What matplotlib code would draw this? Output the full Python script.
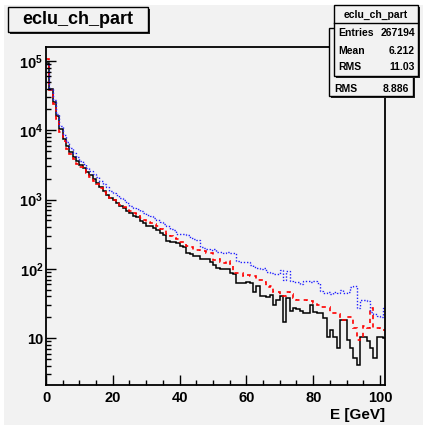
import numpy as np
import matplotlib
matplotlib.use("Agg")
import matplotlib.pyplot as plt
from matplotlib.patches import Rectangle

plt.rcParams['font.family'] = ['Liberation Sans', 'DejaVu Sans']
plt.rcParams['font.weight'] = 'bold'
plt.rcParams['mathtext.fontset'] = 'custom'
plt.rcParams['mathtext.rm'] = 'Liberation Sans:bold'
plt.rcParams['mathtext.it'] = 'Liberation Sans:bold'
plt.rcParams['mathtext.bf'] = 'Liberation Sans:bold'

# bin edges in GeV (1 GeV bins)
edges = np.arange(0, 103)

# black (main histogram)
black = [95000, 40000, 26000, 16000, 10500, 7600, 5900, 4900, 4150, 3550,
         3150, 2850, 2520, 2250, 1950, 1750, 1520, 1320, 1180, 1050,
         980, 890, 810, 760, 690, 640, 585, 560, 485, 460,
         415, 412, 390, 365, 330, 310, 250, 245, 242, 235,
         212, 205, 168, 165, 154, 152, 140, 138, 137, 125,
         112, 102, 101, 100, 98, 88, 84, 63, 63, 62,
         64, 63, 46, 56, 40, 40, 39, 42, 30, 35,
         40, 17, 38, 25, 27, 26, 25, 23, 23, 30,
         24, 23, 23, 19.5, 10.5, 13, 10.5, 7.2, 18, 18,
         9.3, 7.2, 5.2, 4.1, 10.5, 10.5, 9, 7.2, 5.2, 10.5,
         10.5, 10]

# red dashed
red = [105000, 38000, 24000, 14500, 9500, 7000, 5400, 4500, 3800, 3300,
       2950, 2700, 2400, 2150, 1880, 1700, 1480, 1300, 1170, 1060,
       990, 910, 840, 790, 720, 680, 630, 610, 540, 510,
       470, 460, 440, 410, 380, 360, 320, 300, 275, 270,
       245, 248, 215, 210, 188, 185, 183, 182, 170, 168,
       135, 140, 125, 120, 128, 118, 88, 86, 87, 80,
       82, 78, 80, 70, 69, 65, 55, 57, 47, 46,
       42, 40, 46, 44, 38, 36, 36, 35, 34, 34,
       32, 30, 28, 28, 28, 23, 23, 22, 18, 18,
       20, 20, 14, 9.3, 10, 15, 14, 27, 14, 14,
       13, 13]

# blue dotted
blue = [90000, 40000, 27000, 17000, 11500, 8500, 6700, 5600, 4700, 4050,
        3600, 3250, 2900, 2600, 2300, 2100, 1850, 1650, 1500, 1350,
        1250, 1150, 1050, 980, 890, 820, 760, 740, 680, 640,
        600, 580, 540, 510, 470, 450, 420, 380, 365, 320,
        315, 318, 310, 275, 270, 260, 210, 200, 195, 190,
        195, 175, 178, 172, 175, 168, 172, 128, 126, 124,
        125, 112, 108, 104, 100, 102, 90, 86, 84, 85,
        95, 70, 92, 66, 65, 64, 60, 67, 66, 65,
        66, 62, 48, 45, 46, 44, 47, 45, 50, 45,
        46, 55, 56, 27, 36, 35, 34, 24, 22, 21,
        20, 27]

xticks = [0, 20, 40, 60, 80, 100]
ydecades = [10, 100, 1000, 10000, 100000]
ylabels = ['10', r'$10^{2}$', r'$10^{3}$', r'$10^{4}$', r'$10^{5}$']

W, H = 423, 425
bg = '#f2f2f2'


def fx(x):
    return x / W


def fy(y):
    return 1 - y / H


fig = plt.figure(figsize=(W / 100, H / 100), dpi=100)
fig.patch.set_facecolor('white')
fig.patches.append(Rectangle((fx(4), 0), 1, fy(5), transform=fig.transFigure,
                             facecolor=bg, edgecolor='none', zorder=-10))

ax = fig.add_axes([fx(46), fy(385), fx(385) - fx(46), fy(47) - fy(385)])
ax.set_facecolor(bg)
ax.set_zorder(1)

ax.stairs(black, edges, baseline=None, color='black', lw=1.1)
ax.stairs(red, edges, baseline=None, color='#ff0000', lw=1.2,
          linestyle=(0, (2.5, 2.5)))
ax.stairs(blue, edges, baseline=None, color='#2020ff', lw=1.0,
          linestyle=(0, (1, 1.3)))

ax.set_yscale('log')
ax.set_xlim(0, 101.5)
ax.set_ylim(2.11, 1.59e5)

ax.set_xticks(xticks)
ax.set_xticklabels([str(t) for t in xticks])
ax.xaxis.set_minor_locator(matplotlib.ticker.MultipleLocator(5))
ax.set_yticks(ydecades)
ax.set_yticklabels(ylabels)
ax.yaxis.set_minor_locator(matplotlib.ticker.LogLocator(base=10, subs=np.arange(2, 10)))
ax.yaxis.set_minor_formatter(matplotlib.ticker.NullFormatter())

ax.tick_params(which='both', direction='in', top=False, right=False,
               labelsize=10.5, width=1)
ax.tick_params(which='major', length=7)
ax.tick_params(which='minor', length=3.5)
ax.tick_params(axis='x', pad=4)
ax.tick_params(axis='y', pad=2)
for lab in ax.get_xticklabels() + ax.get_yticklabels():
    lab.set_fontweight('bold')
for s in ax.spines.values():
    s.set_linewidth(1.3)

fig.text(fx(385), fy(419), 'E [GeV]', ha='right', va='baseline',
         fontsize=11, fontweight='bold')


def box(x0, y0, x1, y1, z):
    fig.patches.append(Rectangle((fx(x0 + 2), fy(y1 + 2)), fx(x1 - x0), fy(y0) - fy(y1),
                                 transform=fig.transFigure, facecolor='#222222',
                                 edgecolor='none', zorder=z))
    fig.patches.append(Rectangle((fx(x0), fy(y1)), fx(x1 - x0), fy(y0) - fy(y1),
                                 transform=fig.transFigure, facecolor=bg,
                                 edgecolor='black', lw=1, zorder=z + 0.1))


# title box
box(8, 7, 148, 32, 5)
fig.text(fx(78), fy(20), 'eclu_ch_part', ha='center', va='center',
         fontsize=13, fontweight='bold', zorder=6)

# second stats box (behind)
box(329, 28, 413, 96, 5)
fig.text(fx(334), fy(89), 'RMS', ha='left', va='center', fontsize=7.5,
         fontweight='bold', zorder=6)
fig.text(fx(409), fy(89), '8.886', ha='right', va='center', fontsize=7.5,
         fontweight='bold', zorder=6)

# main stats box
box(334, 5, 418, 76, 7)
fig.lines.append(plt.Line2D([fx(334), fx(418)], [fy(23), fy(23)],
                            transform=fig.transFigure, color='black', lw=1, zorder=8))
fig.text(fx(376), fy(14.5), 'eclu_ch_part', ha='center', va='center',
         fontsize=7.5, fontweight='bold', zorder=8)
rows = [('Entries', '267194', 33.5), ('Mean', '6.212', 51), ('RMS', '11.03', 67)]
for name, val, yy in rows:
    fig.text(fx(338), fy(yy), name, ha='left', va='center', fontsize=7.5,
             fontweight='bold', zorder=8)
    fig.text(fx(415), fy(yy), val, ha='right', va='center', fontsize=7.5,
             fontweight='bold', zorder=8)

fig.savefig('out.png', dpi=100, facecolor=fig.get_facecolor())
